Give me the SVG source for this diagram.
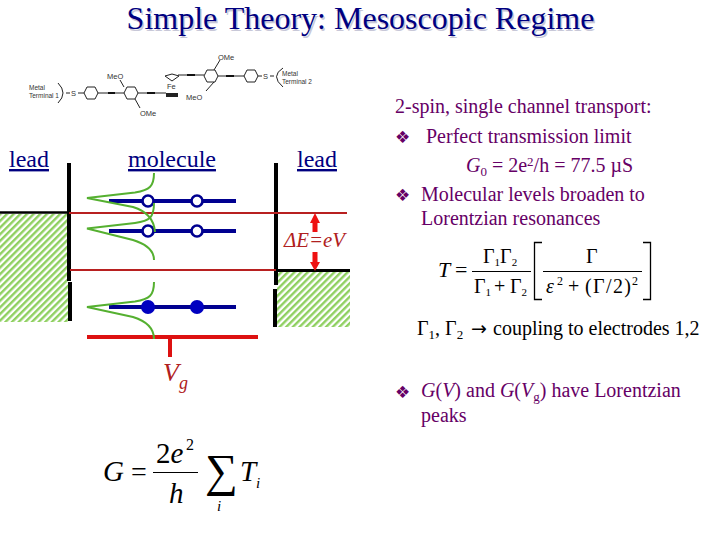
<svg xmlns="http://www.w3.org/2000/svg" width="720" height="540" viewBox="0 0 720 540">
<style>
text{font-family:"Liberation Serif","Times New Roman",serif}
.lead{font-size:24px;fill:#000080;text-decoration:underline}
.p{font-size:20px;fill:#660066}
.b{font-family:"DejaVu Sans",sans-serif;font-size:17px;fill:#660066}
.i{font-style:italic}
.k{fill:#000}
.m{font-family:"Liberation Sans",sans-serif;font-size:7.500px;fill:#333}
.t{font-family:"Liberation Sans",sans-serif;font-size:6.500px;fill:#333}
.mol{fill:none;stroke:#222;stroke-width:1}
.bar{stroke:#000;stroke-width:4;fill:none}
.lv{stroke:#000090;stroke-width:4;fill:none}
.oc{fill:#fff;stroke:#000090;stroke-width:2.600}
.fl{fill:#0000c0;stroke:none}
.gr{fill:none;stroke:#55b030;stroke-width:2}
.rd{stroke:#b82020;stroke-width:2;fill:none}
.ar{fill:#ee1111;stroke:none}
</style>
<defs>
<pattern id="h" width="4.700" height="4.700" patternUnits="userSpaceOnUse" patternTransform="rotate(45)">
<rect width="4.700" height="4.700" fill="#fff"/><rect width="2.400" height="4.700" fill="#8fd060"/>
</pattern>
<polygon id="hx" points="-7,0 -4,-6 4,-6 7,0 4,6 -4,6" class="mol"/>
</defs>
<text x="360.500" y="29.500" dx="1.500" dy="1" text-anchor="middle" font-size="32" fill="#c8c8d8">Simple Theory: Mesoscopic Regime</text>
<text id="title" x="360.500" y="29" text-anchor="middle" font-size="32" fill="#000080">Simple Theory: Mesoscopic Regime</text>

<g id="molecule-structure">
<use href="#hx" x="91" y="93"/><use href="#hx" x="131" y="93"/><use href="#hx" x="211" y="76"/><use href="#hx" x="251" y="76"/>
<path class="mol" d="M98 93H124M138 93H166M178 75H204M218 76H244M258 76H262M78 93H84M270 76H274M66 93H70"/>
<path d="M108 93H115M147 93H155M187 75H195M226 76H234" stroke="#111" stroke-width="2"/>
<path class="mol" d="M124 87L120 80M135 99L140 108M214 70L220 60M214 82L206 91"/>
<path class="mol" d="M58 83Q68 93 58 103M283 68Q270 76 283 87"/>
<path class="mol" d="M165 76L172 74L179 76L172 81Z"/>
<path d="M166 93H178V97H166Z" fill="#222"/>
<text class="m" x="107" y="79">MeO</text><text class="m" x="140" y="116">OMe</text>
<text class="m" x="167" y="89">Fe</text><text class="m" x="186" y="100">MeO</text>
<text class="m" x="218" y="60">OMe</text>
<text class="m" x="71" y="96">S</text><text class="m" x="263" y="79">S</text>
<text class="t" x="29" y="90">Metal</text><text class="t" x="29" y="98">Terminal 1</text>
<text class="t" x="282" y="76">Metal</text><text class="t" x="282" y="84">Terminal 2</text>
</g>

<g id="lead-left-label"><text class="lead" x="9" y="167">lead</text></g>
<g id="molecule-label"><text class="lead" x="128" y="167">molecule</text></g>
<g id="lead-right-label"><text class="lead" x="297" y="167">lead</text></g>

<g id="lead-left">
<rect x="0" y="214" width="68" height="108" fill="url(#h)"/>
<path d="M0 212.500H69" stroke="#000" stroke-width="2.500"/>
<path class="bar" d="M69 163V281M70 282V321"/>
</g>
<g id="lead-right">
<rect x="277" y="272" width="73" height="55" fill="url(#h)"/>
<path d="M276 270.500H350" stroke="#000" stroke-width="3"/>
<path class="bar" d="M276 163V285M275 289V327"/>
</g>

<g id="levels">
<path class="lv" d="M109 201H236M109 231H236M109 307H236"/>
<circle class="oc" cx="148" cy="201" r="5.500"/><circle class="oc" cx="197" cy="201" r="5.500"/>
<circle class="oc" cx="148" cy="231" r="5.500"/><circle class="oc" cx="197" cy="231" r="5.500"/>
<circle class="fl" cx="148" cy="307" r="7"/><circle class="fl" cx="197" cy="307" r="7"/>
</g>

<g id="connectors">
<path class="rd" d="M69 213H347M70 270H276"/>
<path d="M87 337H258M170 337V357" stroke="#dd1111" stroke-width="4" fill="none"/>
<path class="ar" d="M315 213L310 223H312.500V232H317.500V223H320Z"/>
<path class="ar" d="M315 271L310 262H312.500V252H317.500V262H320Z"/>
<path class="gr" d="M154 173C154 186 150 190 135 192.500L87 198L133 207C146 211 154 218 155 232"/>
<path class="gr" d="M154 203C154 217 150 221 135 223L87 228.500L133 240C146 244 154 250 154 260"/>
<path class="gr" d="M154 282C154 295 150 299 135 301.500L87 307L133 317C146 321 154 328 154 339"/>
</g>

<g id="dE"><text x="284" y="247" font-size="20" fill="#b02020" class="i" textLength="61" lengthAdjust="spacingAndGlyphs">ΔE=eV</text></g>
<g id="Vg"><text x="163" y="381" font-size="26" fill="#b02020" class="i">V</text><text x="179" y="389" font-size="18" fill="#b02020" class="i">g</text></g>

<g id="G-formula" class="k">
<text x="103" y="481" font-size="29" class="i">G</text>
<text x="131" y="481" font-size="28">=</text>
<text x="156" y="463" font-size="29">2<tspan class="i">e</tspan></text>
<text x="186" y="450" font-size="16">2</text>
<path d="M153 472.500H198" stroke="#000" stroke-width="1.200"/>
<text x="169" y="503" font-size="29" class="i">h</text>
<text x="205" y="486" font-size="46">∑</text>
<text x="217" y="511" font-size="15" class="i">i</text>
<text x="240" y="481" font-size="29" class="i">T</text>
<text x="256" y="488" font-size="15" class="i">i</text>
</g>

<g id="text-top">
<text class="p" x="395" y="113">2-spin, single channel transport:</text>
<text class="b" x="395" y="143">❖</text>
<text class="p" x="426" y="143">Perfect transmission limit</text>
<text class="p" x="466" y="172"><tspan class="i">G</tspan><tspan font-size="13" dy="4">0</tspan><tspan dy="-4"> = 2e</tspan><tspan font-size="13" dy="-6">2</tspan><tspan dy="6">/h = 77.5 µS</tspan></text>
<text class="b" x="395" y="201">❖</text>
<text class="p" x="421" y="201">Molecular levels broaden to</text>
<text class="p" x="421" y="225">Lorentzian resonances</text>
</g>

<g id="T-formula" class="k">
<text x="438" y="277" font-size="22" class="i">T</text>
<text x="455" y="277" font-size="22">=</text>
<text x="483" y="263" font-size="20">Γ<tspan font-size="11" dy="3">1</tspan><tspan dy="-3">Γ</tspan><tspan font-size="11" dy="3">2</tspan></text>
<path d="M472 271.500H531" stroke="#000"/>
<text x="474" y="293" font-size="20">Γ<tspan font-size="11" dy="3">1</tspan></text>
<text x="494" y="293" font-size="20">+</text>
<text x="510" y="293" font-size="20">Γ<tspan font-size="11" dy="3">2</tspan></text>
<path d="M542 242.500H534.500V299.500H542M643 242.500H650.500V299.500H643" fill="none" stroke="#000" stroke-width="1.300"/>
<text x="586" y="263" font-size="20">Γ</text>
<path d="M543 271.500H642" stroke="#000"/>
<text x="546" y="293" font-size="20" class="i">ε</text>
<text x="557" y="285" font-size="12">2</text>
<text x="568" y="293" font-size="20">+</text>
<text x="585" y="293" font-size="20" textLength="46">(Γ/2)</text>
<text x="632" y="285" font-size="12">2</text>
</g>

<g id="coupling" class="k">
<text x="417" y="335" font-size="20">Γ<tspan font-size="13" dy="4">1</tspan><tspan dy="-4">, Γ</tspan><tspan font-size="13" dy="4">2</tspan></text>
<text x="471" y="335" font-size="19" style="font-family:'DejaVu Sans',sans-serif">→</text>
<text x="493" y="335" font-size="20">coupling to electrodes 1,2</text>
</g>

<g id="text-bottom">
<text class="b" x="395" y="398">❖</text>
<text class="p" x="421" y="397"><tspan class="i">G</tspan>(<tspan class="i">V</tspan>) and <tspan class="i">G</tspan>(<tspan class="i">V</tspan><tspan font-size="13" dy="4">g</tspan><tspan dy="-4">) have Lorentzian</tspan></text>
<text class="p" x="421" y="422">peaks</text>
</g>
</svg>
